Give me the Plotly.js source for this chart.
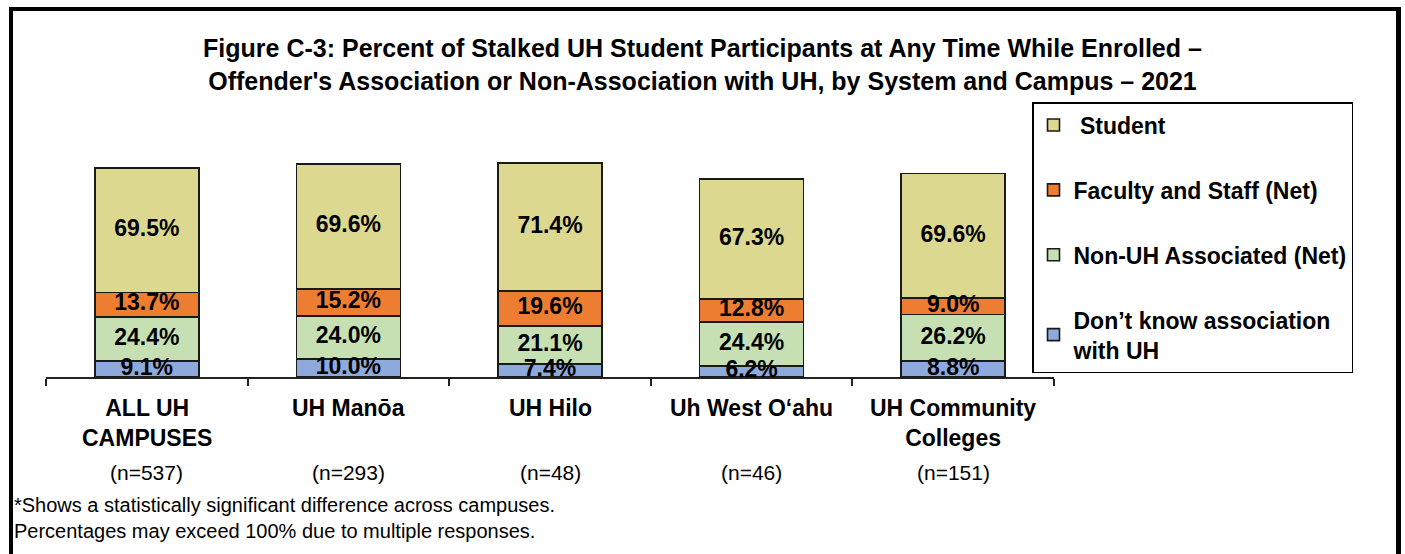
<!DOCTYPE html>
<html>
<head>
<meta charset="utf-8">
<script src="https://cdn.plot.ly/plotly-3.0.1.min.js"></script>
<style>
  html, body { margin: 0; padding: 0; background: #fff; }
  #chart { width: 1405px; height: 554px; position: relative; }
  #frame { position: absolute; left: 9px; top: 7px; width: 1383px; height: 600px;
           border-left: 4px solid #000; border-top: 4px solid #000; border-right: 5px solid #000;
           pointer-events: none; }
</style>
</head>
<body>
<div id="chart"></div>
<div id="frame"></div>
<script>
const categories = ["ALL UH<br>CAMPUSES", "UH Manōa", "UH Hilo", "Uh West O‘ahu", "UH Community<br>Colleges"];
const nLabels = ["(n=537)", "(n=293)", "(n=48)", "(n=46)", "(n=151)"];
const dontKnow = [9.1, 10.0, 7.4, 6.2, 8.8];
const nonUH = [24.4, 24.0, 21.1, 24.4, 26.2];
const faculty = [13.7, 15.2, 19.6, 12.8, 9.0];
const student = [69.5, 69.6, 71.4, 67.3, 69.6];

const seriesNames = ["Don’t know association<br>with UH", "Non-UH Associated (Net)", "Faculty and Staff (Net)", "\u00a0Student"];
const seriesColors = ["#8EA9DB", "#C6E0B4", "#ED7D31", "#DDD890"];
const legendRanks = [4, 3, 2, 1];
const series = [dontKnow, nonUH, faculty, student];

const xs = categories.map((c, i) => i);
const BOLD = "Liberation Sans, Arial, sans-serif";

const traces = [];
series.forEach((vals, k) => {
  traces.push({
    type: "bar", x: xs, y: vals, name: seriesNames[k],
    legendgroup: "g" + k, legendrank: legendRanks[k],
    width: 0.516,
    marker: { color: seriesColors[k], line: { color: "#1a1a1a", width: 1.6 } },
    hoverinfo: "skip"
  });
});
// centered labels
series.forEach((vals, k) => {
  const mids = vals.map((v, i) => {
    let base = 0;
    for (let j = 0; j < k; j++) base += series[j][i];
    return base + v / 2;
  });
  traces.push({
    type: "scatter", mode: "text", x: xs, y: mids,
    text: vals.map(v => v.toFixed(1) + "%"),
    textposition: "middle center",
    textfont: { family: BOLD, size: 23, color: "#000", weight: "bold" },
    cliponaxis: true, showlegend: false, hoverinfo: "skip"
  });
});

const annotations = [];
categories.forEach((c, i) => {
  annotations.push({
    x: xs[i], xref: "x", y: (377 - 393) / 277, yref: "paper", yanchor: "top",
    text: "<b>" + c + "</b>", showarrow: false,
    font: { family: BOLD, size: 23, color: "#000" }
  });
  annotations.push({
    x: xs[i], xref: "x", y: (377 - 472) / 277, yref: "paper", yanchor: "middle",
    text: nLabels[i], showarrow: false,
    font: { family: BOLD, size: 21, color: "#000" }
  });
});
annotations.push({
  x: (12 - 46) / 1008, xref: "paper", xanchor: "left",
  y: (377 - 518) / 277, yref: "paper", yanchor: "middle", align: "left",
  text: "*Shows a statistically significant difference across campuses.<br>Percentages may exceed 100% due to multiple responses.",
  showarrow: false,
  font: { family: BOLD, size: 20, color: "#000" }
});

const layout = {
  width: 1405, height: 554,
  margin: { l: 46, r: 351, t: 100, b: 177 },
  paper_bgcolor: "#fff", plot_bgcolor: "#fff",
  barmode: "stack",
  showlegend: true,
  title: {
    text: "<b>Figure C-3: Percent of Stalked UH Student Participants at Any Time While Enrolled –<br>Offender's Association or Non-Association with UH, by System and Campus – 2021</b>",
    font: { family: BOLD, size: 25, color: "#000" },
    x: 0.5, xref: "container", xanchor: "center",
    y: 1 - 57 / 554, yref: "container", yanchor: "middle"
  },
  xaxis: {
    range: [-0.5, 4.5], showgrid: false, zeroline: false,
    showline: true, linecolor: "#222", linewidth: 2,
    tickmode: "array", tickvals: [-0.5, 0.5, 1.5, 2.5, 3.5, 4.5], ticktext: ["", "", "", "", "", ""],
    ticks: "outside", ticklen: 7, tickwidth: 2, tickcolor: "#222", fixedrange: true
  },
  yaxis: {
    range: [0, 277 / 1.791], visible: false, showgrid: false, zeroline: false, fixedrange: true
  },
  legend: {
    x: (1032 - 46) / 1008, xanchor: "left",
    y: (377 - 102) / 277, yanchor: "top",
    traceorder: "grouped", tracegroupgap: 32,
    bordercolor: "#000", borderwidth: 1.5, bgcolor: "#fff",
    font: { family: BOLD, size: 23, color: "#000", weight: "bold" },
    itemclick: false, itemdoubleclick: false
  },
  annotations: annotations
};

Plotly.newPlot("chart", traces, layout, { staticPlot: true, displayModeBar: false });
</script>
</body>
</html>
